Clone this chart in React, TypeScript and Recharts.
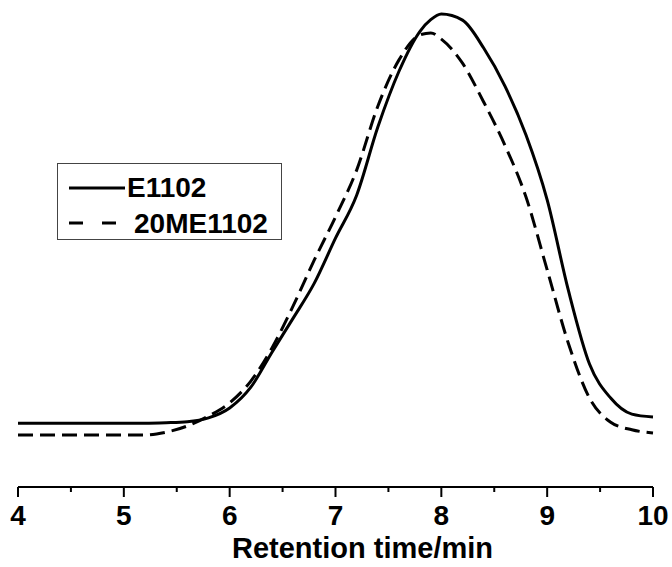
import { LineChart, Line, XAxis, YAxis, Legend } from 'recharts'

const times = [4.0, 4.5, 5.0, 5.2, 5.4, 5.6, 5.8, 6.0, 6.2, 6.4, 6.6, 6.8, 7.0, 7.2, 7.4, 7.6, 7.8, 7.9, 8.0, 8.2, 8.4, 8.6, 8.8, 9.0, 9.2, 9.4, 9.6, 9.8, 10.0]
const e1102 = [13.5, 13.5, 13.5, 13.5, 13.6, 13.8, 14.6, 16.7, 21.1, 28.5, 35.7, 43.1, 52.6, 61.7, 76.1, 87.9, 96.4, 98.8, 100, 98.7, 92.8, 84.8, 74.4, 60.7, 41.6, 26.0, 18.8, 15.4, 14.8]
const me1102 = [11.0, 11.0, 11.0, 11.0, 11.6, 12.9, 15.0, 17.8, 22.4, 29.4, 38.3, 48.0, 57.1, 67.0, 80.5, 90.3, 95.6, 96.0, 94.7, 89.6, 81.4, 72.3, 61.3, 45.9, 30.4, 18.8, 13.7, 12.1, 11.4]
const xTicks = [4, 4.5, 5, 5.5, 6, 6.5, 7, 7.5, 8, 8.5, 9, 9.5, 10]

const data = times.map((t, i) => ({ t, e1102: e1102[i], me1102: me1102[i] }))

const font = '"Liberation Sans", Arial, Helvetica, sans-serif'

function Tick({ x, y, payload }: any) {
  const v = payload.value
  const major = Number.isInteger(v)
  return (
    <g>
      <line x1={x} x2={x} y1={y} y2={y + (major ? 10 : 5)} stroke="#000" strokeWidth={2} />
      {major && (
        <text x={x} y={y + 38} textAnchor="middle" fontFamily={font} fontWeight="bold" fontSize={28} fill="#000">
          {v}
        </text>
      )}
    </g>
  )
}

function AxisTitle({ viewBox }: any) {
  const cx = viewBox.x + viewBox.width / 2 + 27
  return (
    <text x={cx} y={viewBox.y + 71} textAnchor="middle" fontFamily={font} fontWeight="bold" fontSize={29} fill="#000">
      Retention time/min
    </text>
  )
}

function LegendBox() {
  return (
    <svg width={226} height={78} style={{ display: 'block' }}>
      <rect x={0.5} y={0.5} width={224} height={76} fill="#fff" stroke="#444" strokeWidth={1} />
      <line x1={12} x2={68} y1={25} y2={25} stroke="#000" strokeWidth={3} />
      <text x={70} y={34} fontFamily={font} fontWeight="bold" fontSize={28} fill="#000">E1102</text>
      <line x1={12} x2={61} y1={60} y2={60} stroke="#000" strokeWidth={3} strokeDasharray="14 19" />
      <text x={77} y={70} fontFamily={font} fontWeight="bold" fontSize={28} fill="#000">20ME1102</text>
    </svg>
  )
}

export default function App() {
  return (
    <div style={{ position: 'absolute', left: 0, top: 0, background: '#fff' }}>
      <LineChart width={672} height={567} data={data} margin={{ top: 14, right: 19, left: 18, bottom: 0 }}>
        <XAxis
          dataKey="t"
          type="number"
          domain={[4, 10]}
          ticks={xTicks}
          interval={0}
          height={80}
          tickSize={0}
          tickMargin={0}
          tickLine={false}
          tick={<Tick />}
          axisLine={{ stroke: '#000', strokeWidth: 2 }}
          label={<AxisTitle />}
        />
        <YAxis hide domain={[0, 100]} />
        <Legend
          layout="horizontal"
          verticalAlign="middle"
          align="center"
          content={() => <LegendBox />}
          wrapperStyle={{ position: 'absolute', left: 57, top: 163, width: 226, height: 78 }}
        />
        <Line type="monotone" dataKey="e1102" stroke="#000" strokeWidth={3} dot={false} isAnimationActive={false} />
        <Line
          type="monotone"
          dataKey="me1102"
          stroke="#000"
          strokeWidth={3}
          strokeDasharray="15 7"
          dot={false}
          isAnimationActive={false}
        />
      </LineChart>
    </div>
  )
}
